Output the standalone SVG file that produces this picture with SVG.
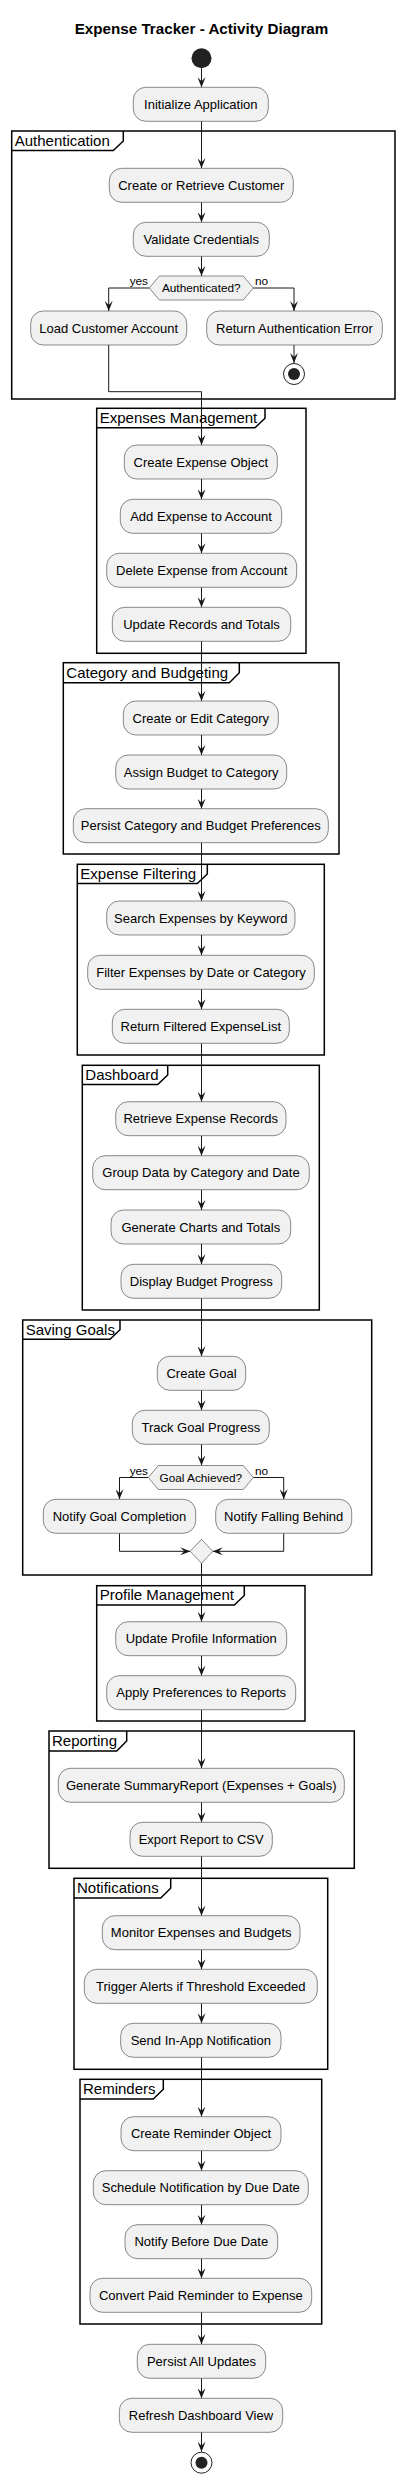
<svg xmlns="http://www.w3.org/2000/svg" width="404" height="2484" viewBox="0 0 404 2484">
<style>
.bg{fill:#FFFFFF}
.box{fill:#F1F1F1;stroke:#181818;stroke-width:0.5}
.t{font-family:"Liberation Sans",Arial,sans-serif;font-size:13px;text-anchor:middle;fill:#000000}
.dt{font-family:"Liberation Sans",Arial,sans-serif;font-size:11.8px;text-anchor:middle;fill:#000000}
.yl{font-family:"Liberation Sans",Arial,sans-serif;font-size:11.8px;text-anchor:end;fill:#000000}
.nl{font-family:"Liberation Sans",Arial,sans-serif;font-size:11.8px;text-anchor:start;fill:#000000}
.title{font-family:"Liberation Sans",Arial,sans-serif;font-size:15.2px;font-weight:bold;text-anchor:middle;fill:#000000}
.fr{fill:none;stroke:#000000;stroke-width:1.5}
.fl{font-family:"Liberation Sans",Arial,sans-serif;font-size:15px;fill:#000000}
.c{fill:none;stroke:#181818;stroke-width:1}
.a{marker-end:url(#ah)}
.start{fill:#222222}
.endo{fill:none;stroke:#222222;stroke-width:1}
.endi{fill:#222222}
</style>
<defs>
<marker id="ah" viewBox="0 0 10 8" refX="10" refY="4" markerWidth="10" markerHeight="8" markerUnits="userSpaceOnUse" orient="auto">
<path d="M0,0 L10,4 L0,8 L4,4 Z" fill="#181818"/>
</marker>
</defs>
<rect class="bg" x="0" y="0" width="404" height="2484"/>
<text class="title" x="201.5" y="34">Expense Tracker - Activity Diagram</text>

<g id="frames">
<g id="f-auth"><rect class="fr" x="11.7" y="131" width="383.3" height="268"/><path class="fr" d="M11.7,150.5 H113.3 L123.3,141 V131"/><text class="fl" x="14.7" y="145.5">Authentication</text></g>
<g id="f-exp"><rect class="fr" x="96.7" y="408.3" width="209.3" height="245"/><path class="fr" d="M96.7,427.8 H255 L265,418.3 V408.3"/><text class="fl" x="99.7" y="422.8">Expenses Management</text></g>
<g id="f-cat"><rect class="fr" x="63.3" y="662.7" width="275.7" height="191.3"/><path class="fr" d="M63.3,682.7 H229.3 L239.3,672.7 V662.7"/><text class="fl" x="66.3" y="677.5">Category and Budgeting</text></g>
<g id="f-filt"><rect class="fr" x="77.3" y="864.3" width="247" height="190.7"/><path class="fr" d="M77.3,883.5 H197.3 L207.3,874 V864.3"/><text class="fl" x="80.3" y="879">Expense Filtering</text></g>
<g id="f-dash"><rect class="fr" x="82.3" y="1065.3" width="237" height="244.7"/><path class="fr" d="M82.3,1084.5 H157.7 L167.7,1075 V1065.3"/><text class="fl" x="85.3" y="1080">Dashboard</text></g>
<g id="f-goals"><rect class="fr" x="22.7" y="1320" width="349" height="255"/><path class="fr" d="M22.7,1339.3 H110 L120,1329.8 V1320"/><text class="fl" x="25.7" y="1334.7">Saving Goals</text></g>
<g id="f-prof"><rect class="fr" x="96.7" y="1585.7" width="208.3" height="135.3"/><path class="fr" d="M96.7,1605 H234.3 L244.3,1595.5 V1585.7"/><text class="fl" x="99.7" y="1600.4">Profile Management</text></g>
<g id="f-rep"><rect class="fr" x="49" y="1731" width="305.3" height="137.3"/><path class="fr" d="M49,1751 H116.7 L126.7,1741 V1731"/><text class="fl" x="52" y="1745.8">Reporting</text></g>
<g id="f-notif"><rect class="fr" x="74" y="1878.3" width="253.7" height="191"/><path class="fr" d="M74,1898 H160.7 L170.7,1888.3 V1878.3"/><text class="fl" x="77" y="1893">Notifications</text></g>
<g id="f-rem"><rect class="fr" x="80" y="2079.3" width="241.7" height="244.7"/><path class="fr" d="M80,2099 H153.3 L163.3,2089.3 V2079.3"/><text class="fl" x="83" y="2094">Reminders</text></g>
</g>

<g id="connectors">
<path class="c a" d="M201.5,68.3 V87.3"/>
<path class="c a" d="M201.5,121.3 V168.3"/>
<path class="c a" d="M201.5,202.3 V222.3"/>
<path class="c a" d="M201.5,256.3 V276"/>
<path class="c a" d="M149.3,288 H108.7 V311"/>
<path class="c a" d="M253.3,288 H294 V311"/>
<path class="c a" d="M294,345 V363"/>
<path class="c a" d="M108.7,345 V391.7 H201.5 V445"/>
<path class="c a" d="M201.5,479 V499.3"/>
<path class="c a" d="M201.5,533.3 V553.3"/>
<path class="c a" d="M201.5,587.3 V607.3"/>
<path class="c a" d="M201.5,641.3 V701"/>
<path class="c a" d="M201.5,735 V755"/>
<path class="c a" d="M201.5,789 V808.7"/>
<path class="c a" d="M201.5,842.7 V901"/>
<path class="c a" d="M201.5,935 V955.3"/>
<path class="c a" d="M201.5,989.3 V1009.3"/>
<path class="c a" d="M201.5,1043.3 V1101.7"/>
<path class="c a" d="M201.5,1135.7 V1155.7"/>
<path class="c a" d="M201.5,1189.7 V1210"/>
<path class="c a" d="M201.5,1244 V1264.3"/>
<path class="c a" d="M201.5,1298.3 V1356.3"/>
<path class="c a" d="M201.5,1390.3 V1410.3"/>
<path class="c a" d="M201.5,1444.3 V1465.5"/>
<path class="c a" d="M148.3,1477.5 H119.5 V1499.3"/>
<path class="c a" d="M253.3,1477.5 H283.7 V1499.3"/>
<path class="c a" d="M119.5,1533.3 V1551.3 H190.2"/>
<path class="c a" d="M283.7,1533.3 V1551.3 H212.8"/>
<path class="c a" d="M201.5,1563.3 V1621.7"/>
<path class="c a" d="M201.5,1655.7 V1675.7"/>
<path class="c a" d="M201.5,1709.7 V1768.3"/>
<path class="c a" d="M201.5,1802.3 V1822.3"/>
<path class="c a" d="M201.5,1856.3 V1915.7"/>
<path class="c a" d="M201.5,1949.7 V1969.3"/>
<path class="c a" d="M201.5,2003.3 V2023.3"/>
<path class="c a" d="M201.5,2057.3 V2116.7"/>
<path class="c a" d="M201.5,2150.7 V2170.7"/>
<path class="c a" d="M201.5,2204.7 V2224.7"/>
<path class="c a" d="M201.5,2258.7 V2278.3"/>
<path class="c a" d="M201.5,2312.3 V2344.3"/>
<path class="c a" d="M201.5,2378.3 V2398.3"/>
<path class="c a" d="M201.5,2432.3 V2451.7"/>
<text class="yl" x="148" y="285">yes</text>
<text class="nl" x="255" y="285">no</text>
<text class="yl" x="148" y="1475">yes</text>
<text class="nl" x="255" y="1475">no</text>
</g>

<g id="start"><circle class="start" cx="201.5" cy="58.3" r="10"/></g>
<g id="n-init"><rect class="box" x="133.3" y="87.3" width="135" height="34" rx="12.5"/><text class="t" x="200.8" y="108.9">Initialize Application</text></g>
<g id="n-crc"><rect class="box" x="109.3" y="168.3" width="184" height="34" rx="12.5"/><text class="t" x="201.3" y="189.9">Create or Retrieve Customer</text></g>
<g id="n-val"><rect class="box" x="133.3" y="222.3" width="136" height="34" rx="12.5"/><text class="t" x="201.3" y="243.9">Validate Credentials</text></g>
<g id="d-auth"><polygon class="box" points="149.3,288 159.3,276 243.3,276 253.3,288 243.3,300 159.3,300"/><text class="dt" x="201.3" y="292.3">Authenticated?</text></g>
<g id="n-load"><rect class="box" x="30.7" y="311" width="156" height="34" rx="12.5"/><text class="t" x="108.7" y="332.6">Load Customer Account</text></g>
<g id="n-ret"><rect class="box" x="206.7" y="311" width="175.6" height="34" rx="12.5"/><text class="t" x="294.5" y="332.6">Return Authentication Error</text></g>
<g id="end-auth"><circle class="endo" cx="294" cy="374" r="10.5"/><circle class="endi" cx="294" cy="374" r="6"/></g>
<g id="n-ceo"><rect class="box" x="124.3" y="445" width="153" height="34" rx="12.5"/><text class="t" x="200.8" y="466.6">Create Expense Object</text></g>
<g id="n-add"><rect class="box" x="120.3" y="499.3" width="161.4" height="34" rx="12.5"/><text class="t" x="201" y="520.9">Add Expense to Account</text></g>
<g id="n-del"><rect class="box" x="106.7" y="553.3" width="190" height="34" rx="12.5"/><text class="t" x="201.7" y="574.9">Delete Expense from Account</text></g>
<g id="n-upd"><rect class="box" x="112.3" y="607.3" width="178.4" height="34" rx="12.5"/><text class="t" x="201.5" y="628.9">Update Records and Totals</text></g>
<g id="n-cec"><rect class="box" x="123.3" y="701" width="155" height="34" rx="12.5"/><text class="t" x="200.8" y="722.6">Create or Edit Category</text></g>
<g id="n-abc"><rect class="box" x="115.7" y="755" width="171" height="34" rx="12.5"/><text class="t" x="201.2" y="776.6">Assign Budget to Category</text></g>
<g id="n-pcb"><rect class="box" x="73.3" y="808.7" width="255" height="34" rx="12.5"/><text class="t" x="200.8" y="830.3">Persist Category and Budget Preferences</text></g>
<g id="n-sek"><rect class="box" x="106.7" y="901" width="188.3" height="34" rx="12.5"/><text class="t" x="200.8" y="922.6">Search Expenses by Keyword</text></g>
<g id="n-fed"><rect class="box" x="87.7" y="955.3" width="226.6" height="34" rx="12.5"/><text class="t" x="201" y="976.9">Filter Expenses by Date or Category</text></g>
<g id="n-rfe"><rect class="box" x="112.3" y="1009.3" width="177" height="34" rx="12.5"/><text class="t" x="200.8" y="1030.9">Return Filtered ExpenseList</text></g>
<g id="n-rer"><rect class="box" x="115.7" y="1101.7" width="170.3" height="34" rx="12.5"/><text class="t" x="200.8" y="1123.3">Retrieve Expense Records</text></g>
<g id="n-gdc"><rect class="box" x="92.7" y="1155.7" width="216.6" height="34" rx="12.5"/><text class="t" x="201" y="1177.3">Group Data by Category and Date</text></g>
<g id="n-gct"><rect class="box" x="111" y="1210" width="179.7" height="34" rx="12.5"/><text class="t" x="200.8" y="1231.6">Generate Charts and Totals</text></g>
<g id="n-dbp"><rect class="box" x="121" y="1264.3" width="160.7" height="34" rx="12.5"/><text class="t" x="201.3" y="1285.9">Display Budget Progress</text></g>
<g id="n-cg"><rect class="box" x="157.3" y="1356.3" width="88.4" height="34" rx="12.5"/><text class="t" x="201.5" y="1377.9">Create Goal</text></g>
<g id="n-tgp"><rect class="box" x="132.3" y="1410.3" width="137" height="34" rx="12.5"/><text class="t" x="200.8" y="1431.9">Track Goal Progress</text></g>
<g id="d-goal"><polygon class="box" points="148.3,1477.5 158.3,1465.5 243.3,1465.5 253.3,1477.5 243.3,1489.5 158.3,1489.5"/><text class="dt" x="200.8" y="1481.8">Goal Achieved?</text></g>
<g id="n-ngc"><rect class="box" x="43.3" y="1499.3" width="152.4" height="34" rx="12.5"/><text class="t" x="119.5" y="1520.9">Notify Goal Completion</text></g>
<g id="n-nfb"><rect class="box" x="215.7" y="1499.3" width="136" height="34" rx="12.5"/><text class="t" x="283.7" y="1520.9">Notify Falling Behind</text></g>
<g id="d-merge"><polygon class="box" points="190.2,1551.3 201.5,1539.3 212.8,1551.3 201.5,1563.3"/></g>
<g id="n-upi"><rect class="box" x="115.7" y="1621.7" width="171" height="34" rx="12.5"/><text class="t" x="201.2" y="1643.3">Update Profile Information</text></g>
<g id="n-apr"><rect class="box" x="106.7" y="1675.7" width="189" height="34" rx="12.5"/><text class="t" x="201.2" y="1697.3">Apply Preferences to Reports</text></g>
<g id="n-gsr"><rect class="box" x="58.3" y="1768.3" width="286" height="34" rx="12.5"/><text class="t" x="201.3" y="1789.9">Generate SummaryReport (Expenses + Goals)</text></g>
<g id="n-erc"><rect class="box" x="130" y="1822.3" width="142.3" height="34" rx="12.5"/><text class="t" x="201.2" y="1843.9">Export Report to CSV</text></g>
<g id="n-meb"><rect class="box" x="102.3" y="1915.7" width="197.7" height="34" rx="12.5"/><text class="t" x="201.2" y="1937.3">Monitor Expenses and Budgets</text></g>
<g id="n-tat"><rect class="box" x="84.3" y="1969.3" width="233" height="34" rx="12.5"/><text class="t" x="200.8" y="1990.9">Trigger Alerts if Threshold Exceeded</text></g>
<g id="n-sin"><rect class="box" x="120.7" y="2023.3" width="160.3" height="34" rx="12.5"/><text class="t" x="200.8" y="2044.9">Send In-App Notification</text></g>
<g id="n-cro"><rect class="box" x="121" y="2116.7" width="160" height="34" rx="12.5"/><text class="t" x="201" y="2138.3">Create Reminder Object</text></g>
<g id="n-snd"><rect class="box" x="93.3" y="2170.7" width="215" height="34" rx="12.5"/><text class="t" x="200.8" y="2192.3">Schedule Notification by Due Date</text></g>
<g id="n-nbd"><rect class="box" x="125" y="2224.7" width="152.7" height="34" rx="12.5"/><text class="t" x="201.3" y="2246.3">Notify Before Due Date</text></g>
<g id="n-cpr"><rect class="box" x="90" y="2278.3" width="221.7" height="34" rx="12.5"/><text class="t" x="200.8" y="2299.9">Convert Paid Reminder to Expense</text></g>
<g id="n-pau"><rect class="box" x="137.3" y="2344.3" width="128.4" height="34" rx="12.5"/><text class="t" x="201.5" y="2365.9">Persist All Updates</text></g>
<g id="n-rdv"><rect class="box" x="119.3" y="2398.3" width="163.4" height="34" rx="12.5"/><text class="t" x="201" y="2419.9">Refresh Dashboard View</text></g>
<g id="end"><circle class="endo" cx="201.5" cy="2462.7" r="10.5"/><circle class="endi" cx="201.5" cy="2462.7" r="6"/></g>
</svg>
